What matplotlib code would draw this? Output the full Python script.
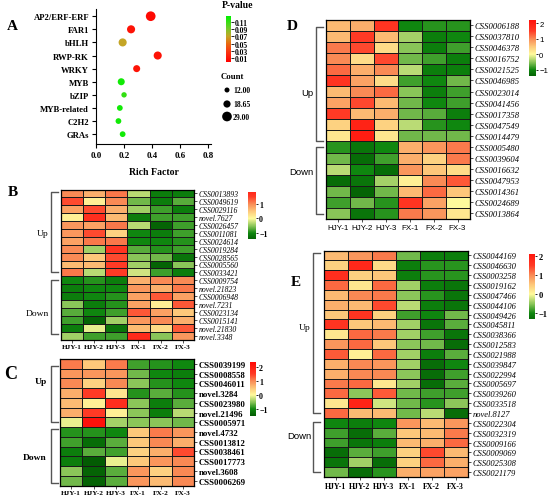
import numpy as np
import matplotlib
matplotlib.use('Agg')
import matplotlib.pyplot as plt
from matplotlib.colors import ListedColormap, to_rgb

# ---- panel A data (TF family enrichment) ----
tf_names = ['AP2/ERF-ERF', 'FAR1', 'bHLH', 'RWP-RK', 'WRKY', 'MYB', 'bZIP',
            'MYB-related', 'C2H2', 'GRAs']
rich_factor = [0.39, 0.25, 0.19, 0.44, 0.29, 0.18, 0.20, 0.17, 0.16, 0.19]
tf_counts = [29, 22, 22, 22, 18, 18, 13, 14, 14, 14]
p_values = [0.005, 0.01, 0.07, 0.01, 0.01, 0.12, 0.11, 0.12, 0.12, 0.12]
legend_counts = [12.00, 18.65, 29.00]
p_ticks = [0.01, 0.03, 0.05, 0.07, 0.09, 0.11]

samples = ['HJY-1', 'HJY-2', 'HJY-3', 'FX-1', 'FX-2', 'FX-3']

# ---- panel B ----
b_genes = ['CSS0013893', 'CSS0049619', 'CSS0029116', 'novel.7627', 'CSS0026457',
           'CSS0011081', 'CSS0024614', 'CSS0019284', 'CSS0028565', 'CSS0005560',
           'CSS0033421', 'CSS0009754', 'novel.21823', 'CSS0006948', 'novel.7231',
           'CSS0023134', 'CSS0015141', 'novel.21830', 'novel.3348']
b_values = [
    [1.0, 0.7, 1.1, -0.3, -1.1, -1.1],
    [1.4, 0.1, 1.0, -0.6, -1.1, -0.7],
    [0.8, 1.4, 0.7, -0.4, -0.8, -1.1],
    [0.1, 1.7, 0.6, -1.1, -0.8, -0.8],
    [0.9, 0.8, 1.1, -0.3, -1.4, -0.8],
    [0.9, 1.4, 0.4, -1.0, -1.1, -0.8],
    [0.8, 1.1, 1.1, -1.0, -1.0, -0.9],
    [1.0, -0.4, 1.6, -0.7, -0.9, -0.8],
    [1.0, 0.5, 1.4, -0.5, -0.6, -1.2],
    [0.6, 0.6, 1.5, -0.4, -1.4, -0.5],
    [1.1, -0.3, 1.5, -0.2, -0.8, -1.1],
    [-1.0, -0.9, -1.1, 0.7, 1.0, 1.0],
    [-1.1, -1.0, -1.0, 0.9, 0.7, 1.1],
    [-1.1, -1.0, -0.9, 0.8, 1.3, 0.8],
    [-0.5, -1.1, -0.9, 0.8, 0.1, 1.3],
    [-0.7, -1.0, -0.8, 1.3, 0.8, 0.5],
    [-0.8, -1.4, -0.4, 0.9, 1.0, 0.7],
    [-1.1, -0.1, -1.2, 0.6, 0.3, 1.3],
    [-0.4, -0.8, -0.8, 1.8, -0.5, 0.9],
]

# ---- panel C ----
c_genes = ['CSS0039199', 'CSS0008558', 'CSS0046011', 'novel.3284', 'CSS0023980',
           'novel.21496', 'CSS0005971', 'novel.4732', 'CSS0013812', 'CSS0038461',
           'CSS0017773', 'novel.3608', 'CSS0006269']
c_values = [
    [1.1, 0.5, 1.1, -0.8, -0.9, -1.0],
    [0.9, 0.9, 0.9, -0.6, -1.0, -1.1],
    [1.0, 0.4, 1.0, -0.5, -0.9, -1.0],
    [0.7, 1.5, 0.2, -0.9, -0.7, -0.9],
    [0.6, 0.1, 1.7, -0.5, -1.1, -0.7],
    [0.7, 1.5, 0.1, -0.5, -1.1, -0.3],
    [-0.1, 2.2, -0.4, -0.5, -0.5, -0.6],
    [-0.9, -0.9, -1.0, 0.5, 1.1, 0.9],
    [-0.8, -1.3, -0.7, 0.5, 1.0, 0.7],
    [-1.1, -0.7, -0.8, 0.4, 0.7, 1.4],
    [-1.1, -1.5, -0.1, 0.5, 0.9, 1.0],
    [-0.5, -1.4, -0.7, 0.9, 0.4, 1.0],
    [-0.6, -1.4, -0.7, 0.9, 0.6, 1.0],
]

# ---- panel D ----
d_genes = ['CSS0006188', 'CSS0037810', 'CSS0046378', 'CSS0016752', 'CSS0021525',
           'CSS0046985', 'CSS0023014', 'CSS0041456', 'CSS0017358', 'CSS0047549',
           'CSS0014479', 'CSS0005480', 'CSS0039604', 'CSS0016632', 'CSS0047953',
           'CSS0014361', 'CSS0024689', 'CSS0013864']
d_values = [
    [0.6, 0.7, 1.6, -1.0, -0.9, -0.9],
    [0.6, 1.5, 0.6, -0.4, -1.1, -1.0],
    [1.1, 1.4, 0.3, -0.5, -1.1, -0.8],
    [1.0, 0.3, 1.4, -0.6, -0.8, -1.1],
    [1.2, 0.7, 1.0, -0.3, -1.1, -1.1],
    [1.6, 0.8, 0.3, -0.8, -1.0, -0.6],
    [0.6, 1.0, 1.2, -0.5, -1.1, -0.8],
    [0.8, 1.4, 0.6, -0.6, -1.0, -0.8],
    [1.5, 0.6, 0.7, -0.6, -0.7, -1.1],
    [0.4, 1.9, 0.4, -0.3, -0.9, -1.0],
    [0.2, 2.0, 0.2, -0.6, -0.6, -0.6],
    [-0.9, -1.2, -1.0, 0.7, 0.9, 1.1],
    [-0.6, -1.3, -0.8, 0.7, 0.4, 1.1],
    [-0.3, -1.0, -1.3, 0.9, 0.5, 0.3],
    [-1.3, -1.2, -0.4, 0.1, 1.0, 1.3],
    [-0.6, -1.4, -0.6, 0.6, 1.2, 0.5],
    [-0.8, -0.6, -0.9, 1.6, 0.8, 0.0],
    [-0.5, -1.2, -0.9, 1.1, 0.9, 0.2],
]

# ---- panel E ----
e_genes = ['CSS0044169', 'CSS0046630', 'CSS0003258', 'CSS0019162', 'CSS0047466',
           'CSS0044106', 'CSS0049426', 'CSS0045811', 'CSS0038366', 'CSS0012583',
           'CSS0021988', 'CSS0039847', 'CSS0022994', 'CSS0005697', 'CSS0039260',
           'CSS0033518', 'novel.8127', 'CSS0022304', 'CSS0032319', 'CSS0009166',
           'CSS0009069', 'CSS0025308', 'CSS0021179']
e_values = [
    [0.6, 0.9, 1.1, -0.6, -1.1, -1.1],
    [0.4, 1.8, 0.3, -1.1, -0.9, -0.9],
    [1.7, 0.4, 0.5, -1.1, -0.9, -0.9],
    [1.2, 0.2, 1.2, -0.4, -1.1, -1.2],
    [0.6, 1.0, 1.1, -0.5, -0.9, -1.2],
    [0.7, 0.6, 1.4, -0.3, -1.1, -1.2],
    [0.5, 1.6, 0.4, -0.8, -1.0, -0.6],
    [1.6, 0.5, 0.6, -0.4, -1.2, -0.7],
    [0.2, 1.2, 1.1, -0.4, -0.8, -1.2],
    [0.9, 1.2, 0.5, -0.5, -0.6, -1.3],
    [1.3, 0.1, 1.2, -0.4, -1.1, -0.7],
    [0.7, 1.0, 0.9, -0.4, -1.3, -1.0],
    [0.7, 1.0, 1.0, -0.5, -1.3, -0.8],
    [1.1, 1.2, 0.2, -0.4, -1.3, -0.7],
    [1.2, -0.5, 1.3, -0.6, -0.8, -0.8],
    [0.2, 1.9, -0.2, -0.6, -0.9, -0.5],
    [1.2, 0.6, 0.6, -0.6, -0.3, -1.4],
    [-1.0, -1.1, -1.0, 0.9, 0.6, 0.9],
    [-0.8, -1.3, -0.7, 0.5, 0.6, 1.1],
    [-0.8, -1.2, -1.1, 0.6, 0.7, 1.2],
    [-1.3, -0.7, -0.8, 0.4, 1.4, 0.6],
    [-1.2, -0.4, -1.3, 0.4, 1.2, 0.7],
    [-0.6, -1.4, -0.9, 0.7, 0.8, 0.8],
]

heat_nodes = [(-1.6, '#005200'), (-1.0, '#0f870f'), (-0.5, '#8cc65a'), (0.0, '#fffa9c'),
              (0.5, '#fdc77a'), (1.0, '#f98a55'), (1.5, '#ff3a25'), (2.5, '#ff0000')]
p_nodes = [(0.0, '#ff0000'), (0.03, '#f83a12'), (0.05, '#e86a10'), (0.07, '#c4a526'),
           (0.09, '#78c82a'), (0.125, '#00f000')]

W, H = 550, 502
SERIF = 'Liberation Serif'
SANS = 'Liberation Sans'


def box(x0, y0, x1, y1):
    return [x0 / W, 1 - y1 / H, (x1 - x0) / W, (y1 - y0) / H]


def make_cmap(nodes, vmin, vmax):
    vals = np.linspace(vmin, vmax, 256)
    pos = [n[0] for n in nodes]
    rgb = np.array([to_rgb(n[1]) for n in nodes])
    cols = np.stack([np.interp(vals, pos, rgb[:, k]) for k in range(3)], axis=1)
    return ListedColormap(cols)


def dot_size(c):
    return 13 + (np.asarray(c) - 12) * 2.1


def heatmap(rect, values, genes, vmin, vmax, crect, cticks, rowfont, colfont, cfont):
    data = np.array(values)
    ax = fig.add_axes(box(*rect))
    mesh = ax.pcolormesh(data, cmap=make_cmap(heat_nodes, vmin, vmax), vmin=vmin, vmax=vmax,
                         edgecolors='#1a1a1a', linewidth=0.6)
    ax.set_xlim(0, data.shape[1])
    ax.set_ylim(data.shape[0], 0)
    ax.set_xticks(np.arange(data.shape[1]) + 0.5, samples, **colfont)
    ax.set_yticks(np.arange(data.shape[0]) + 0.5, genes, **rowfont)
    ax.yaxis.tick_right()
    ax.tick_params(axis='both', length=2.5, width=0.6, pad=1, color='#333333')
    for s in ax.spines.values():
        s.set_linewidth(0.9)
    cax = fig.add_axes(box(*crect))
    cb = fig.colorbar(mesh, cax=cax, ticks=cticks)
    cb.outline.set_visible(False)
    cax.set_yticks(cticks, [f'{t:g}'.replace('-', '\u2212') for t in cticks], **cfont)
    cax.tick_params(length=1.5, width=0.6, pad=0.8)
    return ax


fig = plt.figure(figsize=(5.5, 5.02), dpi=100)

# ---- A: bubble chart ----
axA = fig.add_axes(box(96, 10, 211, 145))
ypos = np.arange(len(tf_names))
sc = axA.scatter(rich_factor, ypos, s=dot_size(tf_counts), c=p_values,
                 cmap=make_cmap(p_nodes, 0, 0.125), vmin=0, vmax=0.125,
                 edgecolors='none', zorder=3)
axA.set_xlim(0, 0.82)
axA.set_ylim(9.75, -0.55)
axA.spines[['top', 'right']].set_visible(False)
axA.set_xticks([0, 0.2, 0.4, 0.6, 0.8], ['0.0', '0.2', '0.4', '0.6', '0.8'],
               fontfamily=SERIF, fontweight='bold', fontsize=6.5)
axA.set_yticks(ypos, tf_names, fontfamily=SERIF, fontweight='bold', fontsize=6.2)
axA.tick_params(length=3, width=0.8, pad=2)
axA.set_xlabel('Rich Factor', fontfamily=SERIF, fontweight='bold', fontsize=7, labelpad=6)

caxA = fig.add_axes(box(226, 17, 231, 63))
cbA = fig.colorbar(sc, cax=caxA, ticks=p_ticks)
cbA.outline.set_visible(False)
caxA.set_yticks(p_ticks, [f'{t:.2f}' for t in p_ticks], fontfamily=SERIF,
                fontweight='bold', fontsize=5.5)
caxA.tick_params(length=2, width=0.6, pad=1)

# ---- B-E heatmaps ----
serif_it = dict(fontfamily=SERIF, fontstyle='italic')
heatmap((60.7, 190.5, 194, 340.5), b_values, b_genes, -1.4, 1.8, (248, 193, 256, 240),
        [-1, 0, 1], dict(serif_it, fontsize=5.6),
        dict(fontfamily=SERIF, fontweight='bold', fontsize=5.2),
        dict(fontfamily=SERIF, fontweight='bold', fontsize=5.8))
heatmap((60, 360, 194, 486.5), c_values, c_genes, -1.5, 2.35, (250, 363, 256, 417),
        [-1, 0, 1, 2], dict(fontfamily=SERIF, fontweight='bold', fontsize=6.3),
        dict(fontfamily=SERIF, fontweight='bold', fontsize=5.2),
        dict(fontfamily=SERIF, fontweight='bold', fontsize=5.8))
heatmap((326, 20.5, 469.5, 220), d_values, d_genes, -1.4, 2.2, (529, 21, 536, 77),
        [-1, 0, 1, 2], dict(serif_it, fontsize=6.2),
        dict(fontfamily=SANS, fontsize=5.8),
        dict(fontfamily=SANS, fontsize=5.6))
heatmap((323.5, 251.5, 467.5, 478), e_values, e_genes, -1.3, 2.1, (529, 255, 535, 320),
        [-1, 0, 1, 2], dict(serif_it, fontsize=6.1),
        dict(fontfamily=SERIF, fontweight='bold', fontsize=5.6),
        dict(fontfamily=SERIF, fontweight='bold', fontsize=6.0))

# ---- overlay for letters, brackets and legends (pixel coords) ----
ov = fig.add_axes([0, 0, 1, 1])
ov.set_xlim(0, W)
ov.set_ylim(H, 0)
ov.axis('off')

for letter, x, y, fs in [('A', 12, 27, 11), ('B', 13, 193, 11), ('C', 11, 375, 13),
                         ('D', 292, 27, 11), ('E', 296, 283, 11)]:
    ov.text(x, y, letter, fontfamily=SERIF, fontweight='bold', fontsize=fs,
            ha='center', va='center')


def bracket(x, y0, y1, tick=7):
    ov.plot([x + tick, x, x, x + tick], [y0, y0, y1, y1], color='#555555', lw=1)


brackets = [(51, 193, 273), (51, 281, 335), (51, 367, 423), (51, 430, 484),
            (316, 28, 142), (316, 148, 215), (313, 254, 414), (313, 423, 473)]
for bx, by0, by1 in brackets:
    bracket(bx, by0, by1)

group_labels = [('Up', 49, 234, SERIF, 'normal'), ('Down', 49, 314, SERIF, 'normal'),
                ('Up', 47, 382, SERIF, 'bold'), ('Down', 47, 458, SERIF, 'bold'),
                ('Up', 313, 93, SANS, 'normal'), ('Down', 313, 173, SANS, 'normal'),
                ('Up', 311, 328, SERIF, 'normal'), ('Down', 311, 437, SANS, 'normal')]
for txt, x, y, fam, wt in group_labels:
    ov.text(x, y, txt, fontfamily=fam, fontweight=wt, fontsize=6.8, ha='right', va='center')

ov.text(222, 6, 'P-value', fontfamily=SERIF, fontweight='bold', fontsize=7, va='center')
ov.text(221, 77, 'Count', fontfamily=SERIF, fontweight='bold', fontsize=6.3, va='center')
leg_y = [91, 105, 117.5]
ov.scatter([227] * 3, leg_y, s=dot_size(legend_counts), c='black', edgecolors='none')
for yy, cnt in zip(leg_y, legend_counts):
    ov.text(233, yy, f'{cnt:.2f}', fontfamily=SERIF, fontweight='bold', fontsize=5.5,
            va='center')

fig.savefig('out.png', dpi=100)
